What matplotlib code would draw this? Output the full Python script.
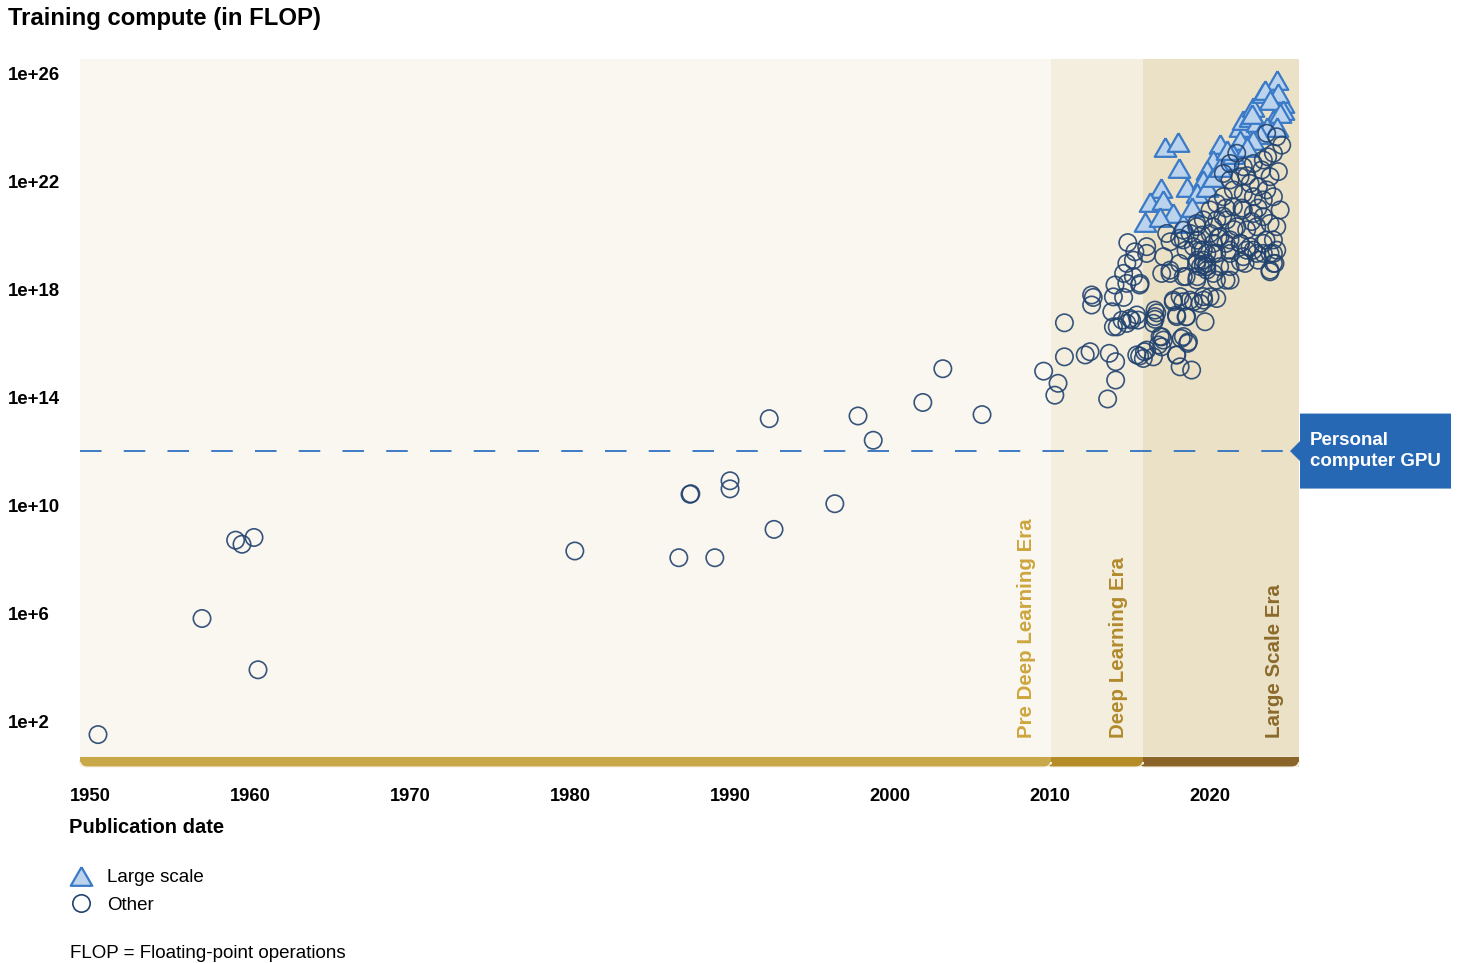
import numpy as np
import matplotlib.pyplot as plt
from matplotlib.lines import Line2D
from matplotlib.patches import FancyBboxPatch, Polygon, Rectangle
from matplotlib.ticker import NullLocator
import matplotlib.transforms as mtransforms

plt.rcParams['font.family'] = ['Liberation Sans', 'DejaVu Sans']

# ---- data (year, log10 of training FLOP) ----
other_years = [
    1950.5, 1957.0, 1960.5, 1959.1, 1959.5, 1960.25, 1980.3, 1986.8, 1989.05, 1987.5,
    1987.55, 1990.0, 1990.0, 1992.75, 1992.45, 1996.55, 1998.0, 1998.95, 2002.05, 2003.3,
    2005.75,
    2009.6, 2010.3, 2010.5, 2010.9, 2010.9, 2012.2, 2012.5, 2012.6, 2012.7, 2012.6,
    2013.6, 2013.7, 2014.1, 2014.1, 2013.86, 2013.96, 2014.2, 2014.5, 2014.8, 2015.0,
    2015.5, 2015.6, 2015.9, 2014.86, 2015.3, 2014.8, 2014.6, 2014.8, 2014.06, 2013.96,
    2014.6, 2015.6,
    2015.42, 2015.83, 2016.04, 2016.56, 2016.56, 2016.46, 2016.88, 2016.98, 2017.08, 2017.92,
    2018.13, 2018.85, 2018.65, 2018.33, 2017.92, 2018.54, 2019.69, 2017.71, 2018.13, 2018.75,
    2019.38, 2019.58, 2020.42, 2017.5, 2018.33, 2019.17, 2019.79, 2021.25, 2021.25, 2022.19,
    2023.75, 2024.06, 2024.17, 2023.33, 2022.29, 2021.25, 2020.21, 2019.58, 2019.17, 2015.63,
    2015.21, 2016.04, 2015.21, 2015.42, 2015.1,
    2016.98, 2017.1, 2017.5, 2018.1, 2018.5, 2019.2, 2019.8, 2020.4, 2021.0, 2018.5,
    2019.2, 2020.0, 2019.6, 2018.96, 2018.3, 2017.7, 2017.9, 2018.5, 2018.2, 2018.6,
    2017.9, 2016.98, 2016.77, 2016.46, 2016.67, 2016.56, 2021.9, 2022.7, 2023.5, 2023.96,
    2023.96, 2023.75, 2023.0, 2021.9, 2021.0, 2020.2, 2019.4, 2019.4, 2019.8, 2018.1,
    2017.5, 2019.2, 2019.8, 2020.6, 2020.2, 2019.6,
    2016.04, 2017.29, 2018.33, 2019.17,
    2023.54, 2024.17, 2024.48, 2023.96, 2023.33, 2024.27, 2023.75, 2023.23, 2022.71, 2022.08,
    2021.88, 2022.5, 2023.02, 2023.54, 2023.96, 2023.33, 2022.71, 2022.08, 2021.46, 2021.25,
    2020.83, 2020.42, 2020.0, 2019.58, 2019.17, 2018.75, 2018.33, 2021.46, 2022.08, 2022.71,
    2023.33, 2023.75, 2022.92, 2022.29, 2021.67, 2021.04, 2020.42, 2020.0, 2020.63, 2021.25,
    2021.88, 2022.5, 2023.33, 2023.96, 2023.75, 2022.92, 2022.08, 2021.25, 2020.42, 2019.58,
    2018.96, 2024.38, 2024.17, 2021.67, 2021.25, 2020.83,
    2019.5, 2020.2, 2020.8, 2021.5, 2020.5, 2021.0, 2022.0, 2022.6, 2023.0, 2022.3,
    2023.6,
]
other_log_flop = [
    1.5, 5.8, 3.9, 8.7, 8.55, 8.8, 8.3, 8.05, 8.05, 10.4,
    10.42, 10.9, 10.6, 9.1, 13.2, 10.05, 13.3, 12.4, 13.8, 15.05,
    13.35,
    14.96, 14.07, 14.51, 16.75, 15.49, 15.56, 15.68, 17.78, 17.69, 17.41,
    13.93, 15.62, 14.63, 15.31, 17.16, 16.6, 16.6, 16.85, 16.73, 16.91,
    16.85, 15.52, 15.68, 19.72, 19.38, 18.95, 18.58, 18.21, 18.15, 17.71,
    17.69, 18.15,
    15.56, 15.43, 15.74, 16.98, 17.22, 16.73, 16.24, 15.86, 16.11, 15.56,
    15.12, 15.0, 16.05, 16.24, 16.98, 16.98, 16.79, 17.59, 17.72, 17.59,
    17.47, 17.72, 17.65, 18.58, 18.46, 18.33, 18.83, 18.33, 18.83, 18.95,
    18.7, 18.95, 19.44, 19.32, 19.44, 19.44, 19.32, 18.89, 18.95, 18.21,
    19.07, 19.32, 18.46, 17.04, 16.85,
    18.58, 19.2, 19.75, 19.88, 19.44, 19.07, 18.95, 18.33, 18.33, 18.46,
    18.46, 17.71, 17.59, 17.53, 17.53, 17.53, 17.04, 16.97, 16.17, 15.99,
    15.56, 16.23, 15.93, 15.49, 17.12, 16.88, 19.69, 19.44, 19.81, 19.32,
    18.95, 18.64, 19.07, 19.01, 19.69, 19.69, 19.44, 18.83, 19.32, 18.95,
    18.7, 19.81, 18.7, 18.83, 18.58, 19.07,
    19.57, 20.06, 20.18, 20.43,
    23.77, 23.64, 23.33, 23.03, 22.78, 22.35, 22.16, 22.41, 22.65, 22.53,
    22.16, 21.91, 21.79, 21.67, 21.42, 21.3, 21.42, 21.54, 21.67, 22.04,
    21.42, 21.17, 20.93, 20.56, 20.31, 20.06, 19.82, 21.05, 20.93, 20.8,
    20.68, 20.43, 20.31, 20.19, 20.31, 20.56, 20.56, 20.06, 19.94, 19.82,
    19.69, 19.57, 19.69, 19.82, 19.32, 19.32, 19.2, 19.32, 19.32, 19.45,
    19.57, 20.93, 20.31, 23.03, 22.65, 22.28,
    20.0, 20.3, 20.7, 20.2, 19.9, 21.0, 21.0, 20.5, 21.0, 22.2,
    22.9,
]

large_years = [
    2017.19, 2018.02, 2018.08, 2016.92, 2018.54, 2016.25, 2017.04, 2017.71, 2015.94, 2016.88,
    2018.33, 2020.63, 2020.21, 2019.79, 2019.58, 2019.17, 2018.85, 2021.04, 2021.88, 2022.08,
    2022.5, 2022.92, 2021.88, 2021.46, 2022.71, 2023.33, 2024.17, 2023.44, 2024.58, 2024.27,
    2023.75, 2024.58, 2023.96, 2023.54, 2023.13, 2022.71, 2022.29, 2019.79, 2020.21, 2020.63,
    2021.04, 2022.6, 2024.38, 2024.17,
]
large_log_flop = [
    23.25, 23.46, 22.47, 21.73, 21.79, 21.23, 21.3, 20.8, 20.49, 20.68,
    20.43, 23.39, 22.78, 22.41, 22.04, 21.54, 21.05, 22.78, 24.01, 24.26,
    24.38, 24.2, 23.52, 23.02, 24.75, 25.25, 25.74, 25.37, 24.88, 25.25,
    25.0, 24.63, 24.26, 24.01, 23.76, 23.52, 23.27, 21.79, 22.16, 22.53,
    23.15, 24.5, 24.51, 24.01,
]

era_names = ['Pre Deep Learning Era', 'Deep Learning Era', 'Large Scale Era']
era_edges = [1949.375, 2010.06, 2015.81, 2025.56]
gpu_flop = 1e12
ytick_exp = [2, 6, 10, 14, 18, 22, 26]
xtick_years = [1950, 1960, 1970, 1980, 1990, 2000, 2010, 2020]

# ---- styling ----
era_bg = ['#FAF7F0', '#F4EEDF', '#EBE1C6']
era_band = ['#C9A84A', '#B58C27', '#8A6429']
era_text = ['#CDA63E', '#B28A2C', '#8B6A2C']
blue = '#2768B4'

W, H = 1461, 963
fig = plt.figure(figsize=(W / 100, H / 100), dpi=100)
ax = fig.add_axes([80 / W, 1 - 767 / H, 1219 / W, 708 / H])
ax.set_xlim(era_edges[0], era_edges[-1])
ax.set_yscale('log')
ax.set_ylim(10 ** 0.30, 10 ** 26.52)
for s in ax.spines.values():
    s.set_visible(False)

for i in range(3):
    ax.axvspan(era_edges[i], era_edges[i + 1], color=era_bg[i], lw=0, zorder=0)

# coloured band along the bottom (drawn in pixel space so corners stay round)
fig.canvas.draw()
bx = [ax.transData.transform((e, 1))[0] for e in era_edges]
y0 = ax.transAxes.transform((0, 0))[1]
band_h = 10
for i in [2, 1, 0]:
    left = bx[i] - (6 if i > 0 else 0)
    p = FancyBboxPatch((left / W, y0 / H), (bx[i + 1] - left) / W, band_h / H,
                       boxstyle='round,pad=0,rounding_size=0.005',
                       transform=fig.transFigure, fc=era_band[i],
                       ec='#F6F0E0', lw=0.8, mutation_aspect=W / H, zorder=2)
    fig.add_artist(p)
    fig.add_artist(Rectangle((left / W, (y0 + band_h / 2) / H), (bx[i + 1] - left) / W,
                             band_h / 2 / H, transform=fig.transFigure,
                             fc=era_band[i], lw=0, zorder=2.1))

# era labels
trans = mtransforms.blended_transform_factory(ax.transData, ax.transAxes)
for i in range(3):
    ax.text(era_edges[i + 1] - 1.52, 0.041, era_names[i], transform=trans,
            rotation=90, ha='center', va='bottom', fontsize=14.8,
            fontweight='bold', color=era_text[i], zorder=3)

# personal computer GPU line
plt.rcParams['lines.scale_dashes'] = False
ax.plot([era_edges[0], 2025.0], [gpu_flop, gpu_flop], color='#2E72C2', lw=1.3,
        dashes=(15.5, 16), dash_capstyle='butt', zorder=1, solid_capstyle='butt')

tri = [(0, 0.866), (-1, -0.866), (1, -0.866), (0, 0.866)]
ax.scatter(large_years, 10 ** np.array(large_log_flop), marker=tri, s=15.5 ** 2,
           facecolor='#BCD3EE', edgecolor='#3A7AC7', linewidth=1.6, zorder=4)
ax.scatter(other_years, 10 ** np.array(other_log_flop), marker='o', s=12.5 ** 2,
           facecolor='none', edgecolor='#22436F', linewidth=1.2, alpha=0.9, zorder=5)

ax.set_yticks([10.0 ** e for e in ytick_exp])
ax.set_yticklabels([f'1e+{e}' for e in ytick_exp])
ax.yaxis.set_minor_locator(NullLocator())
ax.tick_params(axis='y', length=0, pad=51.8, labelsize=13.4)
for lab in ax.get_yticklabels():
    lab.set_ha('left')
    lab.set_fontweight('bold')
ax.set_xticks(xtick_years)
ax.set_xticklabels([str(y) for y in xtick_years])
ax.tick_params(axis='x', length=0, pad=15, labelsize=13.2)
for lab in ax.get_xticklabels():
    lab.set_fontweight('bold')

# GPU callout box
gy = ax.transData.transform((2020, gpu_flop))[1]
box = [(1290, gy), (1300, gy + 10), (1300, gy + 37.5), (1451, gy + 37.5),
       (1451, gy - 37.5), (1300, gy - 37.5), (1300, gy - 10)]
fig.add_artist(Polygon([(x / W, y / H) for x, y in box], closed=True,
                       transform=fig.transFigure, fc=blue, ec='none'))
fig.text(1310 / W, gy / H, 'Personal\ncomputer GPU', color='white', fontsize=13.5,
         fontweight='bold', va='center', ha='left', linespacing=1.3)

fig.text(8 / W, 1 - 18 / H, 'Training compute (in FLOP)', fontsize=17.2,
         fontweight='bold', va='center', ha='left')
fig.text(69 / W, 1 - 827 / H, 'Publication date', fontsize=14.5,
         fontweight='bold', va='center', ha='left')

handles = [
    Line2D([], [], ls='none', marker=tri, markersize=15.5, mfc='#BCD3EE',
           mec='#3A7AC7', mew=1.6),
    Line2D([], [], ls='none', marker='o', markersize=12.5, mfc='none',
           mec='#22436F', mew=1.2),
]
fig.legend(handles, ['Large scale', 'Other'], loc='upper left',
           bbox_to_anchor=(69 / W, 1 - 869 / H), frameon=False, fontsize=13.5,
           handlelength=1.3, handletextpad=0.75, labelspacing=0.55,
           borderaxespad=0, borderpad=0)

fig.text(70 / W, 1 - 953 / H, 'FLOP = Floating-point operations', fontsize=13.5,
         va='center', ha='left')

fig.savefig('out.png', dpi=100)
